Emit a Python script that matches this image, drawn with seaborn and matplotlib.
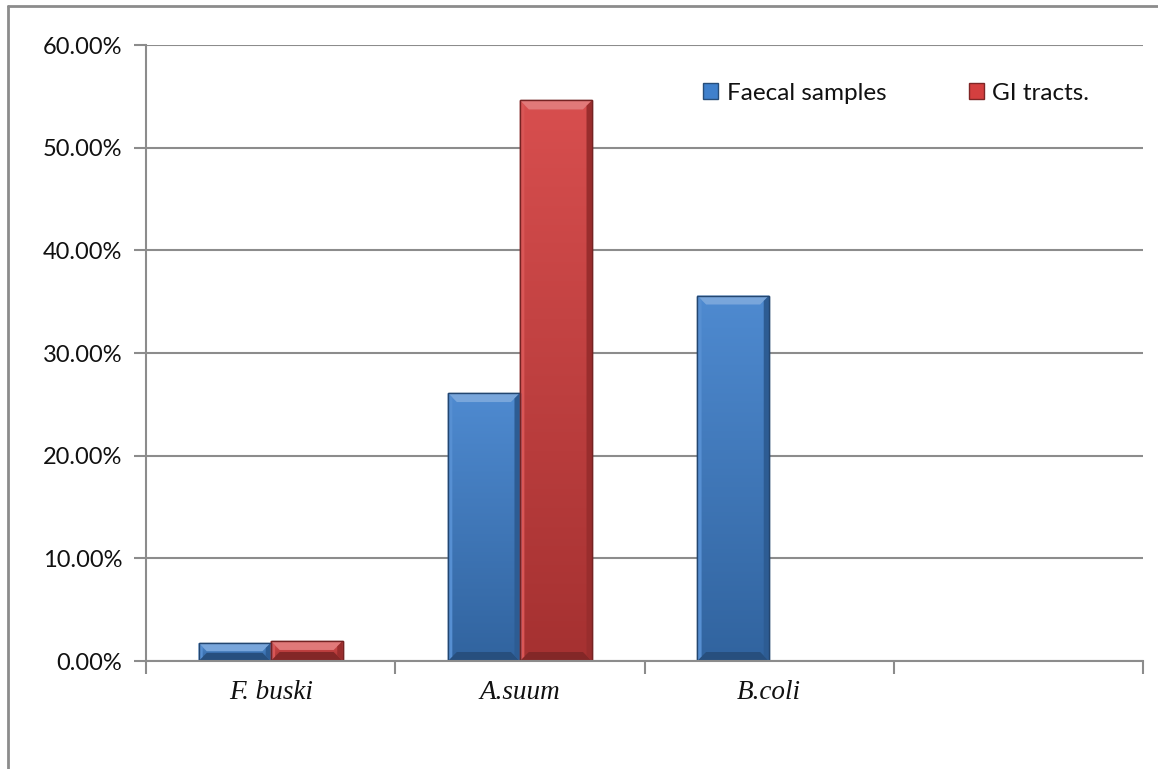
import matplotlib
matplotlib.use("Agg")
import matplotlib.pyplot as plt
import matplotlib.colors as mcolors
from matplotlib.lines import Line2D
from matplotlib.patches import Polygon
from matplotlib.ticker import PercentFormatter, FixedLocator
import numpy as np
import pandas as pd
import seaborn as sns

# Data (percent)
categories = ["F. buski", "A.suum", "B.coli", ""]
faecal = [1.75, 26.1, 35.6]
gi_tracts = [1.95, 54.6, 0.0]
series_names = ["Faecal samples", "GI tracts."]
colors = ["#3f80cc", "#d43f3f"]

df = pd.DataFrame({
    "category": categories[:3] * 2,
    "series": [series_names[0]] * 3 + [series_names[1]] * 3,
    "value": faecal + gi_tracts,
})

sns.set_style("white")
plt.rcParams["font.family"] = ["Lato", "DejaVu Sans"]

fig = plt.figure(figsize=(11.58, 7.69), dpi=100)
ax = fig.add_axes([146 / 1158, 1 - 661 / 769, 997 / 1158, 616 / 769])

sns.barplot(
    data=df, x="category", y="value", hue="series", order=categories,
    hue_order=series_names, palette=colors, width=0.578, ax=ax,
    saturation=1, errorbar=None, linewidth=1, legend=True,
)

grid_col = "#8c8c8c"
ax.set_ylim(0, 60)
ax.set_xlim(-0.5, len(categories) - 0.5)


def lighten(c, f):
    return tuple(min(1, v + (1 - v) * f) for v in c)


def darken(c, f):
    return tuple(v * f for v in c)


# gradient fill + simple bevel on each bar
fig.canvas.draw()
inv = ax.transData.inverted()
for container in ax.containers:
    for p in container.patches:
        h = p.get_height()
        if h <= 0:
            p.set_visible(False)
            continue
        base = mcolors.to_rgb(p.get_facecolor())
        z = p.get_zorder()
        p.set_edgecolor(darken(base, 0.55))
        x0, y0 = p.get_x(), p.get_y()
        x1, y1 = x0 + p.get_width(), y0 + h
        # vertical gradient: lighter on top, darker at the bottom
        top_c = np.array(lighten(base, 0.08))
        bot_c = np.array(darken(base, 0.78))
        t = np.linspace(0, 1, 64)[:, None]
        grad = (top_c[None, :] * (1 - t) + bot_c[None, :] * t)[:, None, :]
        im = ax.imshow(grad, extent=(x0, x1, y0, y1), aspect="auto",
                       origin="upper", zorder=z + 0.05, interpolation="bilinear")
        im.set_clip_path(p)
        (dx0, dy0), (dx1, dy1) = ax.transData.transform([(x0, y0), (x1, y1)])
        b = min(9, (dy1 - dy0) / 2.2, (dx1 - dx0) / 2.2)
        pts = inv.transform
        top = pts([(dx0, dy1), (dx1, dy1), (dx1 - b, dy1 - b), (dx0 + b, dy1 - b)])
        bot = pts([(dx0, dy0), (dx1, dy0), (dx1 - b, dy0 + b), (dx0 + b, dy0 + b)])
        left = pts([(dx0, dy0), (dx0, dy1), (dx0 + b * 0.5, dy1 - b * 0.5), (dx0 + b * 0.5, dy0 + b * 0.5)])
        right = pts([(dx1, dy0), (dx1, dy1), (dx1 - b * 0.6, dy1 - b * 0.6), (dx1 - b * 0.6, dy0 + b * 0.6)])
        ax.add_patch(Polygon(top, closed=True, facecolor=lighten(base, 0.3), edgecolor="none", zorder=z + 0.1))
        ax.add_patch(Polygon(bot, closed=True, facecolor=darken(base, 0.62), edgecolor="none", zorder=z + 0.1))
        ax.add_patch(Polygon(left, closed=True, facecolor=lighten(base, 0.12), edgecolor="none", zorder=z + 0.1))
        ax.add_patch(Polygon(right, closed=True, facecolor=darken(base, 0.72), edgecolor="none", zorder=z + 0.1))
        # redraw outline on top
        ax.add_patch(plt.Rectangle((x0, y0), x1 - x0, h, facecolor="none",
                                   edgecolor=darken(base, 0.55), linewidth=1, zorder=z + 0.2))

ax.set_ylim(0, 60)
ax.set_xlim(-0.5, len(categories) - 0.5)
ax.set_yticks(range(0, 61, 10))
ax.yaxis.set_major_formatter(PercentFormatter(decimals=2))
ax.yaxis.grid(True, color=grid_col, linewidth=1.5)
ax.set_axisbelow(True)
ax.set_xlabel("")
ax.set_ylabel("")

for s in ["top", "right"]:
    ax.spines[s].set_visible(False)
for s in ["left", "bottom"]:
    ax.spines[s].set_color(grid_col)
    ax.spines[s].set_linewidth(1.5)

ax.tick_params(axis="y", which="major", length=9, width=1.5, color=grid_col,
               direction="out", labelsize=17, pad=8, left=True,
               labelcolor="#111111")
ax.tick_params(axis="x", which="major", length=0, pad=14)
ax.xaxis.set_minor_locator(FixedLocator([i - 0.5 for i in range(len(categories) + 1)]))
ax.tick_params(axis="x", which="minor", length=9, width=1.5, color=grid_col,
               direction="out", bottom=True)
for lbl in ax.get_xticklabels():
    lbl.set_fontfamily("Liberation Serif")
    lbl.set_fontstyle("italic")
    lbl.set_fontsize(19.5)
    lbl.set_color("#111111")

handles, labels = ax.get_legend_handles_labels()
for hnd, c in zip(handles, colors):
    hnd.set_facecolor(c)
    hnd.set_edgecolor(darken(mcolors.to_rgb(c), 0.6))
leg = ax.legend(
    handles, labels,
    loc="center left", bbox_to_anchor=(703 / 1158, 1 - 93 / 769),
    bbox_transform=fig.transFigure, ncol=2, frameon=False,
    fontsize=17.5, handlelength=0.62, handleheight=0.62, handletextpad=0.35,
    columnspacing=3.4, borderpad=0, borderaxespad=0,
)
for txt in leg.get_texts():
    txt.set_color("#111111")

# outer chart frame (top and left)
fig.add_artist(Line2D([8 / 1158, 1], [1 - 6 / 769, 1 - 6 / 769], color="#8c8c8c", linewidth=2))
fig.add_artist(Line2D([8 / 1158, 8 / 1158], [0, 1 - 6 / 769], color="#8c8c8c", linewidth=2))

fig.savefig("out.png", dpi=100)
